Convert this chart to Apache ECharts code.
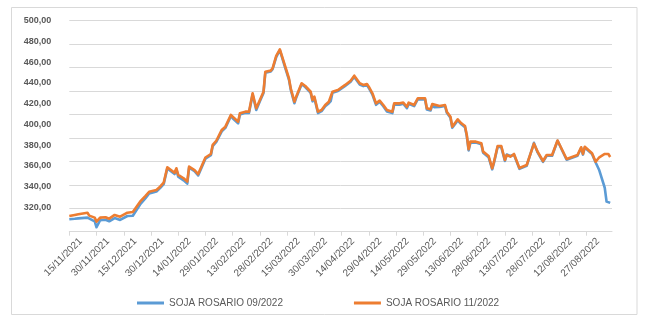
<!DOCTYPE html>
<html>
<head>
<meta charset="utf-8">
<script src="https://cdn.jsdelivr.net/npm/echarts@6/dist/echarts.min.js"></script>
<style>
html,body{margin:0;padding:0;background:#fff;}
#chart{width:649px;height:327px;}
</style>
</head>
<body>
<div id="chart"></div>
<script>
// ---- data ----
const seriesNames = ['SOJA ROSARIO 09/2022', 'SOJA ROSARIO 11/2022'];
const dates = ['15/11/2021','18/11/2021','20/11/2021','25/11/2021','26/11/2021','29/11/2021','30/11/2021','02/12/2021','05/12/2021','07/12/2021','10/12/2021','13/12/2021','14/12/2021','17/12/2021','20/12/2021','21/12/2021','24/12/2021','27/12/2021','29/12/2021','30/12/2021',
'02/01/2022','04/01/2022','06/01/2022','08/01/2022','10/01/2022','12/01/2022','13/01/2022','14/01/2022','17/01/2022','19/01/2022','20/01/2022','23/01/2022','25/01/2022','26/01/2022','29/01/2022',
'01/02/2022','02/02/2022','04/02/2022','07/02/2022','09/02/2022','12/02/2022','13/02/2022','16/02/2022','17/02/2022','20/02/2022','22/02/2022','24/02/2022','25/02/2022','26/02/2022','28/02/2022',
'02/03/2022','03/03/2022','06/03/2022','07/03/2022','09/03/2022','11/03/2022','12/03/2022','14/03/2022','16/03/2022','17/03/2022','19/03/2022','20/03/2022','23/03/2022','25/03/2022','28/03/2022','29/03/2022','30/03/2022',
'01/04/2022','03/04/2022','05/04/2022','07/04/2022','08/04/2022','09/04/2022','10/04/2022','12/04/2022','16/04/2022','19/04/2022','21/04/2022','22/04/2022','24/04/2022','26/04/2022','28/04/2022','29/04/2022',
'01/05/2022','03/05/2022','05/05/2022','07/05/2022','09/05/2022','10/05/2022','12/05/2022','13/05/2022','16/05/2022','18/05/2022','20/05/2022','21/05/2022','24/05/2022','26/05/2022','30/05/2022','31/05/2022',
'02/06/2022','03/06/2022','04/06/2022','07/06/2022','10/06/2022','11/06/2022','13/06/2022','14/06/2022','16/06/2022','17/06/2022','19/06/2022','21/06/2022','22/06/2022','23/06/2022','24/06/2022','27/06/2022','28/06/2022','30/06/2022',
'01/07/2022','04/07/2022','06/07/2022','07/07/2022','09/07/2022','11/07/2022','13/07/2022','14/07/2022','16/07/2022','18/07/2022','21/07/2022','25/07/2022','29/07/2022','31/07/2022',
'03/08/2022','05/08/2022','08/08/2022','11/08/2022','12/08/2022','16/08/2022','22/08/2022','24/08/2022','25/08/2022','26/08/2022','30/08/2022',
'01/09/2022','03/09/2022','06/09/2022','07/09/2022','08/09/2022','09/09/2022'];
const soja09 = [330.6,331.0,331.4,332.0,330.8,328.8,323.8,329.8,330.2,328.9,331.6,330.0,331.2,333.4,333.6,335.2,343.2,348.6,352.6,351.9,
354.2,357.2,360.6,374.0,371.6,369.2,373.2,367.0,363.8,361.0,374.6,371.6,368.0,369.2,382.3,
385.2,393.0,396.6,405.6,408.6,418.6,416.8,412.4,420.0,421.4,421.2,437.0,438.4,423.8,431.2,
438.4,455.6,456.6,458.6,469.0,474.8,469.8,459.6,449.8,441.2,429.6,434.2,445.8,443.4,438.4,431.2,434.2,
421.2,422.8,427.0,429.6,431.4,438.6,437.2,440.0,444.4,448.0,452.2,449.8,445.6,444.2,445.2,442.6,
437.0,428.2,430.8,427.0,422.6,423.4,421.2,428.6,428.4,429.2,425.4,429.2,427.2,433.0,432.8,424.2,
423.4,428.0,426.2,426.4,427.2,421.4,417.2,408.6,412.8,415.0,411.6,409.2,401.6,389.4,396.0,396.0,397.4,394.6,
387.4,383.6,373.2,378.8,392.4,392.2,380.4,385.8,384.6,385.6,373.6,376.2,395.8,387.6,
379.6,384.8,384.8,397.6,396.4,381.4,384.8,391.4,385.8,391.8,386.2,
379.0,372.4,357.5,345.8,345.2,344.6];
const soja11 = [333.4,334.3,334.9,336.2,333.7,332.0,328.5,332.0,332.3,331.1,334.3,332.8,334.0,336.2,336.8,338.5,345.6,350.5,354.1,353.3,
355.6,358.4,361.8,375.0,372.6,370.3,374.1,368.4,365.6,362.7,375.5,372.6,369.2,370.3,383.3,
386.3,394.0,397.6,406.8,409.6,419.6,418.1,413.8,421.0,422.4,422.4,438.1,439.4,425.3,432.4,
439.4,456.5,457.4,459.4,469.9,475.6,470.7,460.8,450.9,442.3,430.9,435.2,446.6,444.3,439.4,432.4,435.2,
422.4,423.8,428.1,430.9,432.4,439.4,438.1,440.9,445.2,448.8,453.1,450.9,446.6,445.2,446.0,443.7,
438.1,429.5,431.8,428.1,423.8,424.4,422.4,429.5,429.5,430.1,426.6,430.1,428.1,433.8,433.8,425.3,
424.4,428.9,427.2,427.2,428.1,422.4,418.1,409.6,413.8,415.9,412.5,410.2,402.5,390.3,396.8,396.8,398.2,395.4,
388.3,384.6,374.1,379.7,393.1,393.1,381.2,385.4,384.0,386.3,374.4,376.9,395.1,388.3,
380.3,385.4,385.4,397.8,396.8,382.0,385.4,392.0,386.3,392.5,386.9,
379.7,383.5,386.3,386.3,386.3,383.7];
const yTicks = {min: 320, max: 500, step: 20};
const axisStart = '15/11/2021', axisEnd = '10/09/2022';
const labelEvery = 15; // days between date labels

// ---- build the daily category axis ----
function parseD(s){const p=s.split('/');return Date.UTC(+p[2],+p[1]-1,+p[0]);}
function fmt(t){const d=new Date(t);return String(d.getUTCDate()).padStart(2,'0')+'/'+String(d.getUTCMonth()+1).padStart(2,'0')+'/'+d.getUTCFullYear();}
const cats=[];
for(let t=parseD(axisStart);t<=parseD(axisEnd);t+=86400000) cats.push(fmt(t));
const toPairs = vals => dates.map((d,i)=>[cats.indexOf(d), vals[i]]);

const GRID_L=69.3, GRID_T=20.7, GRID_W=542.7, GRID_H=211;
const txt='#595959', grid='#d9d9d9';
const chart = echarts.init(document.getElementById('chart'), null, {renderer:'canvas'});
chart.setOption({
  animation:false,
  backgroundColor:'#ffffff',
  graphic:[{type:'rect', shape:{x:11.5,y:7.5,width:625.5,height:307}, style:{fill:'none', stroke:grid, lineWidth:1}, silent:true, z:-1}],
  grid:[
    {left:GRID_L, top:GRID_T, width:GRID_W, height:GRID_H},
    {left:GRID_L, top:GRID_T, width:GRID_W, height:186.6},
    {left:GRID_L+11.4, top:GRID_T, width:GRID_W, height:GRID_H}
  ],
  xAxis:[
    {type:'category', gridIndex:0, data:cats, boundaryGap:false,
     axisLine:{lineStyle:{color:grid, width:1}},
     axisTick:{show:true, interval:labelEvery-1, length:4, lineStyle:{color:grid}},
     axisLabel:{show:false}, splitLine:{show:false}},
    {type:'value', gridIndex:1, show:false},
    {type:'category', gridIndex:2, data:cats, boundaryGap:false,
     axisLine:{show:false}, axisTick:{show:false}, splitLine:{show:false},
     axisLabel:{show:true, interval:labelEvery-1, rotate:45, margin:8, color:txt, fontSize:10, fontFamily:'Liberation Sans, Arial, sans-serif'}}
  ],
  yAxis:[
    {type:'value', gridIndex:0, min:yTicks.min, max:yTicks.max, interval:yTicks.step,
     axisLine:{show:false}, axisTick:{show:false}, axisLabel:{show:false},
     splitLine:{show:true, lineStyle:{color:grid, width:1}}},
    {type:'value', gridIndex:1, min:yTicks.min, max:yTicks.max, interval:yTicks.step,
     axisLine:{show:false}, axisTick:{show:false}, splitLine:{show:false},
     axisLabel:{show:true, margin:18, color:txt, fontSize:9, fontWeight:'bold', fontFamily:'Liberation Sans, Arial, sans-serif',
       formatter:v=>v.toFixed(2).replace('.',',')}},
    {type:'value', gridIndex:2, show:false, min:yTicks.min, max:yTicks.max}
  ],
  legend:{
    data:seriesNames, left:132, top:293, icon:'rect', itemWidth:27, itemHeight:3, itemGap:71,
    textStyle:{color:txt, fontSize:10, fontFamily:'Liberation Sans, Arial, sans-serif'}
  },
  series:[
    {name:seriesNames[0], type:'line', xAxisIndex:0, yAxisIndex:0, data:toPairs(soja09),
     showSymbol:false, symbol:'none', color:'#5b9bd5', lineStyle:{width:2.6, color:'#5b9bd5', join:'round'}, z:2},
    {name:seriesNames[1], type:'line', xAxisIndex:0, yAxisIndex:0, data:toPairs(soja11),
     showSymbol:false, symbol:'none', color:'#ed7d31', lineStyle:{width:2.6, color:'#ed7d31', join:'round'}, z:3}
  ]
});
</script>
</body>
</html>
